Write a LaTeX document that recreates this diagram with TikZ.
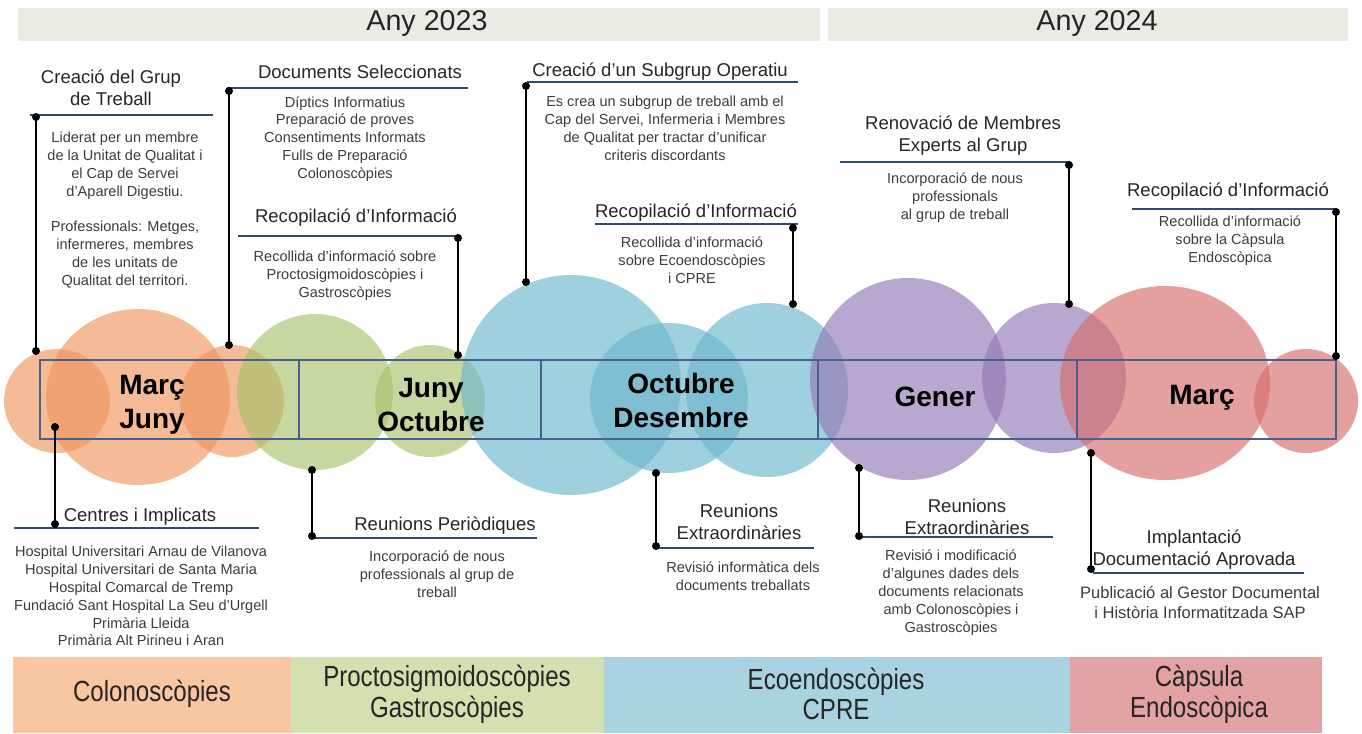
\documentclass[tikz,border=0pt]{standalone}
\usepackage{graphicx}
\usepackage{fontspec}
\setmainfont{Liberation Sans}
\definecolor{orc}{RGB}{240,150,95}
\definecolor{grc}{RGB}{168,195,109}
\definecolor{blc}{RGB}{109,183,205}
\definecolor{puc}{RGB}{147,121,180}
\definecolor{rdc}{RGB}{214,109,109}
\definecolor{yearc}{RGB}{236,235,227}
\definecolor{tlc}{RGB}{74,96,140}
\definecolor{ulc}{RGB}{47,75,110}
\definecolor{headc}{RGB}{38,38,38}
\definecolor{bodyc}{RGB}{60,60,60}
\definecolor{bandO}{RGB}{248,198,160}
\definecolor{bandG}{RGB}{211,224,176}
\definecolor{bandB}{RGB}{169,211,225}
\definecolor{bandR}{RGB}{227,162,164}
\newcommand\tallline[1]{\scalebox{0.95}[1.15]{#1}}
\begin{document}
\begin{tikzpicture}[x=0.75pt,y=-0.75pt,
  conn/.style={line width=2.2pt, black},
  uline/.style={line width=1.8pt, color=ulc},
  head/.style={font=\fontsize{13.9}{16.5}\selectfont, text=headc, align=center, inner sep=0pt},
  body/.style={font=\fontsize{10.9}{13.4}\selectfont, text=bodyc, align=center, inner sep=0pt},
  bodybig/.style={font=\fontsize{12.4}{14.3}\selectfont, text=bodyc, align=center, inner sep=0pt},
  month/.style={font=\fontsize{21}{25.5}\selectfont\bfseries, text=black, align=center, inner sep=0pt},
  yeartxt/.style={font=\fontsize{21.5}{25}\selectfont, text=headc, inner sep=0pt},
  bandtxt/.style={font=\fontsize{19}{23}\selectfont, text=headc, align=center, inner sep=0pt},
  blob/.style={fill opacity=0.65},
  tl/.style={line width=1.3pt, color=tlc}]
% canvas
\fill[white] (0,0) rectangle (1362,733);
\useasboundingbox (0,0) rectangle (1362,733);
% year bands
\fill[yearc] (18,8) rectangle (820,41);
\fill[yearc] (828,8) rectangle (1348,41);
\node[yeartxt] (y23) at (427,23) {Any 2023};
\node[yeartxt] (y24) at (1097,23) {Any 2024};
% bottom bands
\fill[bandO] (13,657) rectangle (291,733);
\fill[bandG] (291,657) rectangle (604,733);
\fill[bandB] (604,657) rectangle (1070,733);
\fill[bandR] (1070,657) rectangle (1322,733);
\node[bandtxt] (t1) at (152,694) {\tallline{Colonoscòpies}};
\node[bandtxt] (t2) at (447,694) {\tallline{Proctosigmoidoscòpies}\\\tallline{Gastroscòpies}};
\node[bandtxt] (t3) at (836,694) {\tallline{Ecoendoscòpies}\\\tallline{CPRE}};
\node[bandtxt] (t4) at (1199,694) {\tallline{Càpsula}\\\tallline{Endoscòpica}};
% blobs
\fill[orc,blob] (57,401) ellipse [x radius=39.75pt, y radius=39pt];
\fill[orc,blob] (138,397) ellipse [x radius=69pt, y radius=66pt];
\fill[orc,blob] (232,401) ellipse [x radius=39pt, y radius=42pt];
\fill[grc,blob] (315,392) ellipse [x radius=58.5pt, y radius=58.5pt];
\fill[grc,blob] (430,401) ellipse [x radius=41.25pt, y radius=42pt];
\fill[blc,blob] (571,385) ellipse [x radius=82.5pt, y radius=82.5pt];
\fill[blc,blob] (669,398) ellipse [x radius=59.25pt, y radius=56.25pt];
\fill[blc,blob] (767,390) ellipse [x radius=60.75pt, y radius=65.25pt];
\fill[puc,blob] (908,379) ellipse [x radius=73.5pt, y radius=75.75pt];
\fill[puc,blob] (1054,378) ellipse [x radius=54pt, y radius=56.25pt];
\fill[rdc,blob] (1165,383) ellipse [x radius=78.75pt, y radius=72.75pt];
\fill[rdc,blob] (1306,401) ellipse [x radius=39pt, y radius=39pt];
% timeline
\draw[tl] (40,360) rectangle (1336,439);
\foreach \xx in {299,541,818,1077} \draw[tl] (\xx,360) -- (\xx,439);
\node[month] (m1) at (152,405) {Març\\Juny};
\node[month] (m2) at (431,405) {Juny\\Octubre};
\node[month] (m3) at (681,400) {Octubre\\Desembre};
\node[month] (m4) at (935,397) {Gener};
\node[month] (m5) at (1202,398) {Març};
% ---- top annotations
\node[head] (h1) at (111,88) {Creació del Grup\\de Treball};
\node[body] (b1) at (125,210) {Liderat per un membre\\de la Unitat de Qualitat i\\el Cap de Servei\\d’Aparell Digestiu.\\[13.4pt]Professionals: Metges,\\infermeres, membres\\de les unitats de\\Qualitat del territori.};
\coordinate (u1a) at (30,115); \coordinate (u1b) at (213,115);
\coordinate (k1a) at (36,117); \coordinate (k1b) at (36,351);

\node[head] (h2) at (360,72) {Documents Seleccionats};
\node[body] (b2) at (345,139) {Díptics Informatius\\Preparació de proves\\Consentiments Informats\\Fulls de Preparació\\Colonoscòpies};
\coordinate (u2a) at (227,88); \coordinate (u2b) at (468,88);
\coordinate (k2a) at (229,91); \coordinate (k2b) at (229,345);

\node[head] (h3) at (356,218) {Recopilació d’Informació};
\node[body] (b3) at (345,276) {Recollida d’informació sobre\\Proctosigmoidoscòpies i\\Gastroscòpies};
\coordinate (u3a) at (238,236); \coordinate (u3b) at (461,236);
\coordinate (k3a) at (458,238); \coordinate (k3b) at (458,355);

\node[head] (h4) at (660,72) {Creació d’un Subgrup Operatiu};
\node[body] (b4) at (665,128.5) {Es crea un subgrup de treball amb el\\Cap del Servei, Infermeria i Membres\\de Qualitat per tractar d’unificar\\criteris discordants};
\coordinate (u4a) at (527,82); \coordinate (u4b) at (798,82);
\coordinate (k4a) at (526,86); \coordinate (k4b) at (526,282);

\node[head] (h5) at (696,213) {Recopilació d’Informació};
\node[body] (b5) at (692,260) {Recollida d’informació\\sobre Ecoendoscòpies\\i CPRE};
\coordinate (u5a) at (595,224); \coordinate (u5b) at (798,224);
\coordinate (k5a) at (793,228); \coordinate (k5b) at (793,304);

\node[head] (h6) at (963,136) {Renovació de Membres\\Experts al Grup};
\node[body] (b6) at (955,198) {Incorporació de nous\\professionals\\al grup de treball};
\coordinate (u6a) at (840,162); \coordinate (u6b) at (1070,162);
\coordinate (k6a) at (1069,165); \coordinate (k6b) at (1069,304);

\node[head] (h7) at (1228,192) {Recopilació d’Informació};
\node[body] (b7) at (1230,241) {Recollida d’informació\\sobre la Càpsula\\Endoscòpica};
\coordinate (u7a) at (1132,209); \coordinate (u7b) at (1337,209);
\coordinate (k7a) at (1336,212); \coordinate (k7b) at (1336,356);
% ---- bottom annotations
\node[head] (h8) at (140,517) {Centres i Implicats};
\node[body] (b8) at (141,596) {Hospital Universitari Arnau de Vilanova\\Hospital Universitari de Santa Maria\\Hospital Comarcal de Tremp\\Fundació Sant Hospital La Seu d’Urgell\\Primària Lleida\\Primària Alt Pirineu i Aran};
\coordinate (u8a) at (14,528); \coordinate (u8b) at (259,528);
\coordinate (k8a) at (55,427); \coordinate (k8b) at (55,524);

\node[head] (h9) at (445,526) {Reunions Periòdiques};
\node[body] (b9) at (437,574) {Incorporació de nous\\professionals al grup de\\treball};
\coordinate (u9a) at (312,538); \coordinate (u9b) at (537,538);
\coordinate (k9a) at (312,470); \coordinate (k9b) at (312,536);

\node[head] (h10) at (739,522) {Reunions\\Extraordinàries};
\node[body] (b10) at (743,576) {Revisió informàtica dels\\documents treballats};
\coordinate (u10a) at (656,548); \coordinate (u10b) at (814,548);
\coordinate (k10a) at (656,473); \coordinate (k10b) at (656,546);

\node[head] (h11) at (967,517) {Reunions\\Extraordinàries};
\node[body] (b11) at (951,592.5) {Revisió i modificació\\d’algunes dades dels\\documents relacionats\\amb Colonoscòpies i\\Gastroscòpies};
\coordinate (u11a) at (859,537); \coordinate (u11b) at (1053,537);
\coordinate (k11a) at (859,468); \coordinate (k11b) at (859,536);

\node[head] (h12) at (1194,550) {Implantació\\Documentació Aprovada};
\node[bodybig] (b12) at (1200,602.5) {Publicació al Gestor Documental\\i Història Informatitzada SAP};
\coordinate (u12a) at (1093,573); \coordinate (u12b) at (1304,573);
\coordinate (k12a) at (1091,453); \coordinate (k12b) at (1091,569);
% underlines, connectors, dots
\foreach \i in {1,...,12} {
  \draw[uline] (u\i a) -- (u\i b);
  \draw[conn] (k\i a) -- (k\i b);
  \fill (k\i a) circle[radius=3pt];
  \fill (k\i b) circle[radius=3pt];
}
\end{tikzpicture}
\end{document}
